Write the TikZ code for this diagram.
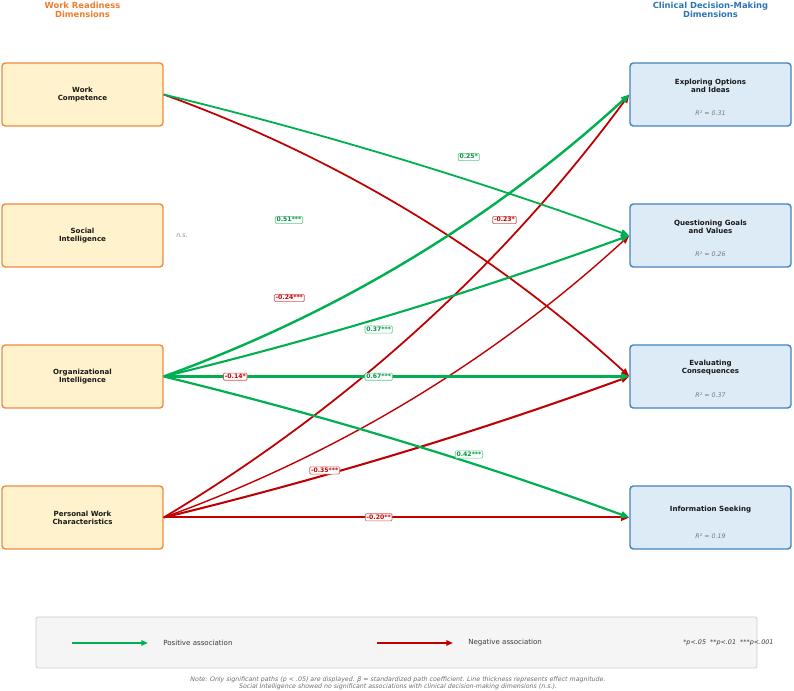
\documentclass[tikz,border=0pt]{standalone}
\usepackage{fontspec}
\setmainfont{DejaVu Sans}
\usetikzlibrary{arrows.meta,calc}
\definecolor{otitle}{RGB}{237,125,49}
\definecolor{lfill}{RGB}{255,242,204}
\definecolor{lbord}{RGB}{238,140,62}
\definecolor{btitle}{RGB}{46,117,182}
\definecolor{rfill}{RGB}{221,235,247}
\definecolor{rbord}{RGB}{68,131,192}
\definecolor{pgreen}{RGB}{0,176,80}
\definecolor{nred}{RGB}{192,0,0}
\definecolor{lgb}{RGB}{95,200,135}
\definecolor{lrb}{RGB}{212,85,85}
\definecolor{txt}{RGB}{25,25,25}
\definecolor{gtxt}{RGB}{120,120,120}
\definecolor{legfill}{RGB}{245,245,245}
\definecolor{legbord}{RGB}{205,205,205}
\begin{document}
\begin{tikzpicture}[x=0.75pt,y=0.75pt,
  lbox/.style={draw=lbord, fill=lfill, line width=1.1pt, rounded corners=2.5pt,
    minimum width=120.75pt, minimum height=47.25pt, inner sep=0pt, align=center,
    font=\bfseries\fontsize{5.3}{6}\selectfont, text=txt},
  rbox/.style={draw=rbord, fill=rfill, line width=1.1pt, rounded corners=2.5pt,
    minimum width=120.75pt, minimum height=47.25pt, inner sep=0pt},
  rt/.style={align=center, inner sep=0pt, font=\bfseries\fontsize{5.3}{6}\selectfont, text=txt},
  rsq/.style={inner sep=0pt, font=\itshape\fontsize{4.7}{5.5}\selectfont, text=gtxt},
  coltitle/.style={align=center, inner sep=0pt, font=\bfseries\fontsize{6.3}{7.1}\selectfont},
  pe/.style={draw=pgreen, -{Triangle[length=6.2pt,width=5pt]}},
  ne/.style={draw=nred, -{Triangle[length=6.2pt,width=5pt]}},
  lab/.style={fill=white, line width=0.5pt, rounded corners=0.8pt, inner xsep=1pt, inner ysep=0.9pt,
    text height=3.3pt, text depth=0.3pt, font=\bfseries\fontsize{4.6}{5}\selectfont},
  lp/.style={lab, draw=lgb, text=pgreen!85!black},
  ln/.style={lab, draw=lrb, text=nred},
  qarc/.style 2 args={to path={.. controls ($(\tikztostart)!1/3!(\tikztotarget)!#1!#2:(\tikztotarget)$)
      and ($(\tikztostart)!2/3!(\tikztotarget)!2*#1!#2:(\tikztotarget)$) .. (\tikztotarget) \tikztonodes}},
  bone/.style={qarc={0.028}{90}},
  bonu/.style={qarc={0.028}{-90}},
  btwd/.style={qarc={0.1}{90}},
  btwu/.style={qarc={0.1}{-90}},
  legtext/.style={anchor=west, inner sep=0pt, font=\fontsize{5.3}{6}\selectfont, text=txt!85},
  note/.style={align=center, inner sep=0pt, font=\itshape\fontsize{4.7}{5.6}\selectfont, text=gtxt!90!black}
]
\useasboundingbox (0,-691) rectangle (794,0);

% column titles
\node[coltitle, text=otitle] (lt) at (82.5,-10) {Work Readiness\\Dimensions};
\node[coltitle, text=btitle] (rtt) at (710.5,-10) {Clinical Decision-Making\\Dimensions};

% left boxes
\node[lbox] (wc) at (82.5,-94.5) {Work\\Competence};
\node[lbox] (si) at (82.5,-235.5) {Social\\Intelligence};
\node[lbox] (oi) at (82.5,-376.5) {Organizational\\Intelligence};
\node[lbox] (pwc) at (82.5,-517.5) {Personal Work\\Characteristics};

% right boxes
\node[rbox] (eo) at (710.5,-94.5) {};
\node[rbox] (qg) at (710.5,-235.5) {};
\node[rbox] (ec) at (710.5,-376.5) {};
\node[rbox] (is) at (710.5,-517.5) {};

\node[rt] (eot) at ([yshift=6.4pt]eo.center) {Exploring Options\\and Ideas};
\node[rsq] (eor) at ([yshift=-14.2pt]eo.center) {R² = 0.31};
\node[rt] (qgt) at ([yshift=6.4pt]qg.center) {Questioning Goals\\and Values};
\node[rsq] (qgr) at ([yshift=-14.2pt]qg.center) {R² = 0.26};
\node[rt] (ect) at ([yshift=6.4pt]ec.center) {Evaluating\\Consequences};
\node[rsq] (ecr) at ([yshift=-14.2pt]ec.center) {R² = 0.37};
\node[rt] (ist) at ([yshift=6.2pt]is.center) {Information Seeking};
\node[rsq] (isr) at ([yshift=-14.2pt]is.center) {R² = 0.19};

\node[inner sep=0pt, font=\itshape\fontsize{4.8}{5}\selectfont, text=gtxt!80] (ns) at (182,-236) {n.s.};

% paths
\draw[ne, line width=1.33pt] (pwc.east) to[btwu] (eo.west);
\draw[ne, line width=1.05pt] (pwc.east) to[btwu] (qg.west);
\draw[ne, line width=1.53pt] (pwc.east) to[bonu] (ec.west);
\draw[ne, line width=1.5pt] (pwc.east) -- (is.west);
\draw[ne, line width=1.31pt] (wc.east) to[btwd] (ec.west);
\draw[pe, line width=1.35pt] (wc.east) to[bone] (qg.west);
\draw[pe, line width=1.82pt] (oi.east) to[btwu] (eo.west);
\draw[pe, line width=1.57pt] (oi.east) to[bonu] (qg.west);
\draw[pe, line width=2.1pt] (oi.east) -- (ec.west);
\draw[pe, line width=1.65pt] (oi.east) to[bone] (is.west);

% coefficient labels
\node[lp] (l1) at (468.7,-157) {0.25*};
\node[ln] (l2) at (504.5,-220) {-0.23*};
\node[lp] (l3) at (289,-220) {0.51***};
\node[ln] (l4) at (289.3,-298) {-0.24***};
\node[lp] (l5) at (378.7,-329.5) {0.37***};
\node[ln] (l6) at (235.3,-376.7) {-0.14*};
\node[lp] (l7) at (378.7,-376.7) {0.67***};
\node[lp] (l8) at (469,-454.5) {0.42***};
\node[ln] (l9) at (324.7,-470.5) {-0.35***};
\node[ln] (l10) at (378.7,-517.3) {-0.20**};

% legend
\node[draw=legbord, fill=legfill, line width=0.6pt, rounded corners=1.5pt,
  minimum width=540.75pt, minimum height=38.25pt, inner sep=0pt] (leg) at (396.5,-642.5) {};
\coordinate (g1) at (72,-643);
\coordinate (g2) at (148,-643);
\coordinate (r1) at (377,-643);
\coordinate (r2) at (453,-643);
\draw[draw=pgreen, line width=1.6pt, -{Triangle[length=5pt,width=4pt]}] (g1) -- (g2);
\draw[draw=nred, line width=1.6pt, -{Triangle[length=5pt,width=4pt]}] (r1) -- (r2);
\node[legtext] (pt) at (163,-643) {Positive association};
\node[legtext] (nt) at (468,-643) {Negative association};
\node[inner sep=0pt, anchor=west, font=\itshape\fontsize{4.8}{5}\selectfont, text=txt!85] (sig) at (683,-643) {*p<.05\ \ **p<.01\ \ ***p<.001};

\node[note] (nt1) at (398,-683) {Note: Only significant paths (p < .05) are displayed. β = standardized path coefficient. Line thickness represents effect magnitude.\\Social Intelligence showed no significant associations with clinical decision-making dimensions (n.s.).};
\end{tikzpicture}
\end{document}
